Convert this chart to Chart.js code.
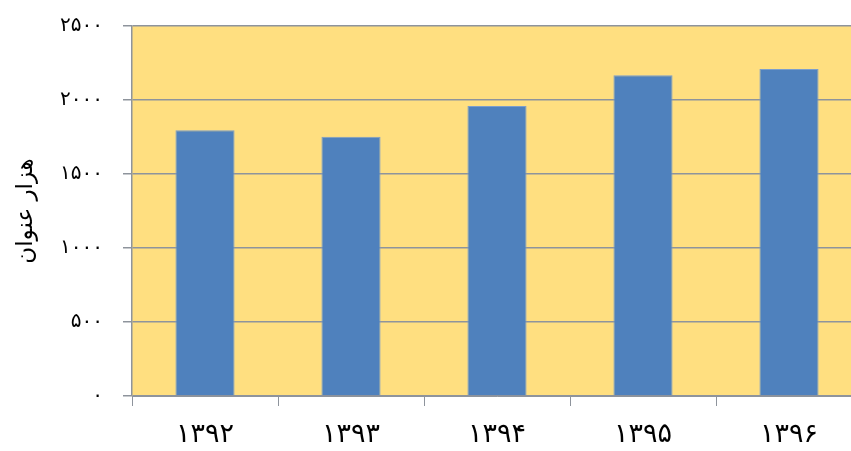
<!DOCTYPE html>
<html lang="fa">
<head>
<meta charset="utf-8">
<title>هزار عنوان</title>
<script src="https://cdn.jsdelivr.net/npm/chart.js@4/dist/chart.umd.min.js"></script>
<style>
    html, body { margin: 0; padding: 0; background: #ffffff; overflow: hidden; }
    #wrap { width: 862px; height: 451px; }
</style>
</head>
<body>
<div id="wrap"><canvas id="titlesChart" width="862" height="451"></canvas></div>
<script>
// data
const years = ['۱۳۹۲', '۱۳۹۳', '۱۳۹۴', '۱۳۹۵', '۱۳۹۶'];
const titleCounts = [1795, 1752, 1959, 2168, 2210];
const yTickValues = [0, 500, 1000, 1500, 2000, 2500];
const yTickLabels = ['۰', '۵۰۰', '۱۰۰۰', '۱۵۰۰', '۲۰۰۰', '۲۵۰۰'];
const yTitle = 'هزار عنوان';

const colors = {
    bar: '#4F81BD',
    barEdge: '#7C9ECB',
    plotBg: '#FFDF80',
    grid: '#8E949C',
    text: '#000000'
};

// yellow plot area behind the bars
const plotBackground = {
    id: 'plotBackground',
    beforeDraw: function (chart) {
        const a = chart.chartArea;
        const ctx = chart.ctx;
        ctx.save();
        ctx.fillStyle = colors.plotBg;
        ctx.fillRect(a.left, a.top, a.right - a.left, a.bottom - a.top);
        ctx.restore();
    }
};

new Chart(document.getElementById('titlesChart'), {
    type: 'bar',
    data: {
        labels: years,
        datasets: [{
            data: titleCounts,
            backgroundColor: colors.bar,
            borderColor: colors.barEdge,
            borderWidth: 1,
            categoryPercentage: 1,
            barPercentage: 0.405
        }]
    },
    options: {
        responsive: false,
        animation: false,
        layout: { padding: { top: 26, right: 0, bottom: 0, left: 0 } },
        plugins: {
            legend: { display: false },
            tooltip: { enabled: false }
        },
        scales: {
            x: {
                grid: {
                    offset: true,
                    drawOnChartArea: false,
                    color: colors.grid,
                    tickLength: 10,
                    lineWidth: 1
                },
                border: { color: colors.grid, width: 1 },
                ticks: {
                    color: colors.text,
                    padding: 13,
                    font: { family: "'DejaVu Sans', sans-serif", size: 27 }
                },
                afterFit: function (scale) {
                    scale.height = 55;
                    scale.paddingLeft = 0;
                    scale.paddingRight = 0;
                }
            },
            y: {
                min: 0,
                max: 2500,
                afterBuildTicks: function (scale) {
                    scale.ticks = yTickValues.map(v => ({ value: v }));
                },
                grid: {
                    color: colors.grid,
                    lineWidth: 1.5,
                    tickLength: 9
                },
                border: { color: colors.grid, width: 1.5 },
                ticks: {
                    color: colors.text,
                    padding: 20,
                    font: { family: "'DejaVu Sans', sans-serif", size: 20 },
                    callback: function (value) {
                        const i = yTickValues.indexOf(value);
                        return i >= 0 ? yTickLabels[i] : '';
                    }
                },
                title: {
                    display: true,
                    text: yTitle,
                    color: colors.text,
                    padding: { top: 12, bottom: 0 },
                    font: { family: "'DejaVu Sans', sans-serif", size: 23 }
                },
                afterFit: function (scale) {
                    scale.width = 132;
                    scale.paddingTop = 0;
                    scale.paddingBottom = 0;
                }
            }
        }
    },
    plugins: [plotBackground]
});
</script>
</body>
</html>
